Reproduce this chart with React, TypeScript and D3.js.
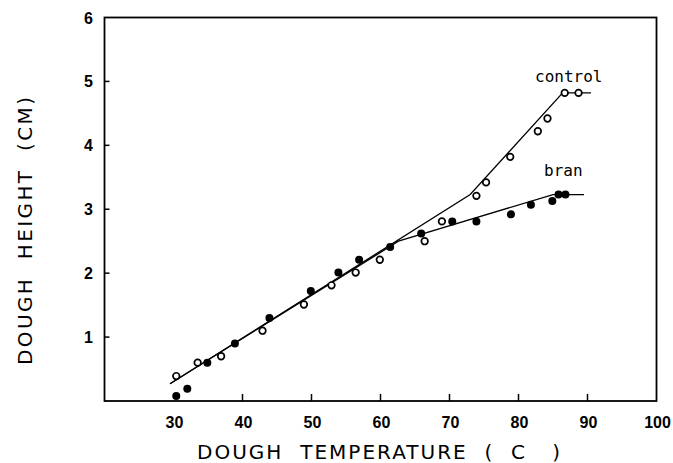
import React, { useRef, useEffect } from 'react';
import * as d3 from 'd3';

// open circles
const controlTemp = [30.4, 33.5, 36.9, 42.9, 48.9, 52.9, 56.4, 59.9, 66.4, 68.9, 73.9, 75.3, 78.8, 82.8, 84.2, 86.7, 88.7];
const controlHeight = [0.39, 0.6, 0.7, 1.1, 1.51, 1.81, 2.01, 2.21, 2.5, 2.81, 3.21, 3.42, 3.82, 4.22, 4.42, 4.82, 4.82];

// filled circles
const branTemp = [30.4, 32.0, 34.9, 38.9, 43.9, 49.9, 53.9, 56.9, 61.4, 65.9, 70.4, 73.9, 78.9, 81.8, 84.9, 85.8, 86.8];
const branHeight = [0.08, 0.19, 0.6, 0.9, 1.3, 1.72, 2.01, 2.21, 2.41, 2.62, 2.81, 2.81, 2.92, 3.07, 3.13, 3.23, 3.23];

// fitted lines
const controlFitTemp = [29.5, 73.0, 86.4, 90.5];
const controlFitHeight = [0.27, 3.23, 4.82, 4.82];
const branFitTemp = [29.5, 62.6, 85.0, 89.5];
const branFitHeight = [0.27, 2.5, 3.23, 3.23];

const xTickLabels = [30, 40, 50, 60, 70, 80, 90, 100];
const xTickMarks = [40, 50, 60, 70, 80, 90];
const yTickLabels = [1, 2, 3, 4, 5, 6];
const yTickMarks = [1, 2, 3, 4, 5];

const App = () => {
  const svgRef = useRef<SVGSVGElement>(null);

  useEffect(() => {
    const svg = d3.select(svgRef.current);
    svg.selectAll('*').remove();

    const left = 104.5;
    const right = 656.5;
    const top = 17.5;
    const bottom = 401;

    const x = d3.scaleLinear().domain([20, 100]).range([left, right]);
    const y = d3.scaleLinear().domain([0, 6]).range([bottom, top]);

    // frame
    svg
      .append('rect')
      .attr('x', left)
      .attr('y', top)
      .attr('width', right - left)
      .attr('height', bottom - top)
      .attr('fill', 'none')
      .attr('stroke', '#000')
      .attr('stroke-width', 1.8);

    // inward ticks
    svg
      .selectAll('line.xtick')
      .data(xTickMarks)
      .enter()
      .append('line')
      .attr('class', 'xtick')
      .attr('x1', (d) => x(d))
      .attr('x2', (d) => x(d))
      .attr('y1', bottom)
      .attr('y2', bottom - 7)
      .attr('stroke', '#000')
      .attr('stroke-width', 1.5);

    svg
      .selectAll('line.ytick')
      .data(yTickMarks)
      .enter()
      .append('line')
      .attr('class', 'ytick')
      .attr('x1', left)
      .attr('x2', left + 5)
      .attr('y1', (d) => y(d))
      .attr('y2', (d) => y(d))
      .attr('stroke', '#000')
      .attr('stroke-width', 1.5);

    // tick labels
    svg
      .selectAll('text.xlab')
      .data(xTickLabels)
      .enter()
      .append('text')
      .attr('class', 'xlab')
      .attr('x', (d) => x(d) + 1)
      .attr('y', 428)
      .attr('text-anchor', 'middle')
      .attr('font-family', 'Liberation Sans, Arial, sans-serif')
      .attr('font-weight', 'bold')
      .attr('font-size', 16)
      .text((d) => d);

    svg
      .selectAll('text.ylab')
      .data(yTickLabels)
      .enter()
      .append('text')
      .attr('class', 'ylab')
      .attr('x', 93)
      .attr('y', (d) => y(d) + 6)
      .attr('text-anchor', 'end')
      .attr('font-family', 'Liberation Sans, Arial, sans-serif')
      .attr('font-weight', 'bold')
      .attr('font-size', 16)
      .text((d) => d);

    // axis titles
    svg
      .append('text')
      .attr('x', 197)
      .attr('y', 459)
      .attr('textLength', 363)
      .attr('lengthAdjust', 'spacing')
      .attr('font-family', 'DejaVu Sans, sans-serif')
      .attr('font-size', 20)
      .style('white-space', 'pre')
      .text('DOUGH  TEMPERATURE  (  C   )');

    svg
      .append('text')
      .attr('transform', 'translate(32, 365) rotate(-90)')
      .attr('textLength', 268)
      .attr('lengthAdjust', 'spacing')
      .attr('font-family', 'DejaVu Sans, sans-serif')
      .attr('font-size', 20)
      .style('white-space', 'pre')
      .text('DOUGH  HEIGHT  (CM)');

    // fitted lines
    const line = d3
      .line<number[]>()
      .x((d) => x(d[0]))
      .y((d) => y(d[1]));
    const controlFit = controlFitTemp.map((t, i) => [t, controlFitHeight[i]]);
    const branFit = branFitTemp.map((t, i) => [t, branFitHeight[i]]);
    [controlFit, branFit].forEach((pts) => {
      svg
        .append('path')
        .attr('d', line(pts))
        .attr('fill', 'none')
        .attr('stroke', '#000')
        .attr('stroke-width', 1.3);
    });

    // points
    const control = controlTemp.map((t, i) => ({ t, h: controlHeight[i] }));
    const bran = branTemp.map((t, i) => ({ t, h: branHeight[i] }));

    svg
      .selectAll('circle.control')
      .data(control)
      .enter()
      .append('circle')
      .attr('class', 'control')
      .attr('cx', (d) => x(d.t))
      .attr('cy', (d) => y(d.h))
      .attr('r', 3.3)
      .attr('fill', '#fff')
      .attr('stroke', '#000')
      .attr('stroke-width', 1.7);

    svg
      .selectAll('circle.bran')
      .data(bran)
      .enter()
      .append('circle')
      .attr('class', 'bran')
      .attr('cx', (d) => x(d.t))
      .attr('cy', (d) => y(d.h))
      .attr('r', 4)
      .attr('fill', '#000');

    // series labels
    svg
      .append('text')
      .attr('x', 535)
      .attr('y', 82)
      .attr('font-family', 'DejaVu Sans Mono, monospace')
      .attr('font-size', 16)
      .text('control');

    svg
      .append('text')
      .attr('x', 544)
      .attr('y', 176)
      .attr('font-family', 'DejaVu Sans Mono, monospace')
      .attr('font-size', 16)
      .text('bran');
  }, []);

  return (
    <svg
      ref={svgRef}
      width={673}
      height={463}
      style={{ position: 'absolute', left: 0, top: 0, background: '#fff' }}
    />
  );
};

export default App;
